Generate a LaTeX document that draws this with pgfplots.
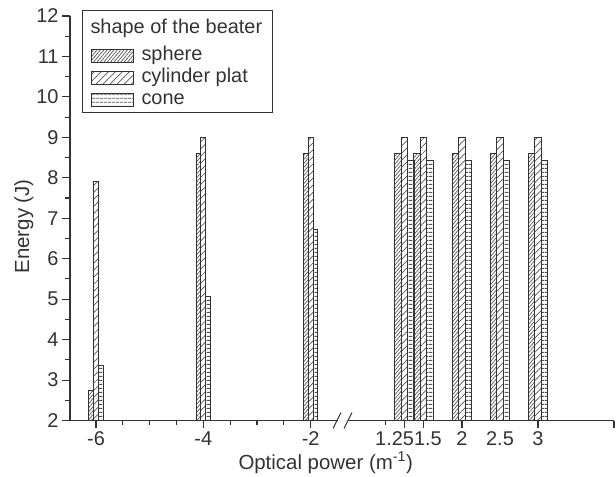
\documentclass[border=0pt]{standalone}
\usepackage{pgfplots}
\pgfplotsset{compat=1.18}
\usepackage{fontspec}
\setmainfont{Liberation Sans}
\usetikzlibrary{patterns.meta}
\definecolor{ax}{HTML}{333333}
\definecolor{hatch}{HTML}{555555}
\definecolor{edge}{HTML}{333333}
\pgfplotsset{
  mybar/.style={ybar, draw=edge, line width=1bp,
    legend image code/.code={\draw[##1] (0bp,-6.5bp) rectangle (42bp,6.5bp);}},
  sphere/.style={pattern={Lines[angle=50,distance=2.6bp,line width=0.7bp]}, pattern color=hatch},
  cyl/.style={pattern={Lines[angle=45,distance=5bp,line width=0.7bp]}, pattern color=hatch},
  cone/.style={pattern={Lines[angle=0,distance=3.6bp,line width=0.9bp]}, pattern color=hatch},
}
\begin{document}
\begin{tikzpicture}
\useasboundingbox (-70bp,-56.5bp) rectangle (546bp,420.5bp);
\begin{axis}[
  scale only axis, width=544bp, height=404.5bp,
  xmin=70, xmax=614, ymin=2, ymax=12,
  axis x line*=bottom, axis y line*=left,
  axis line style={ax, line width=1.3bp},
  tick style={ax, line width=1.1bp},
  tick align=outside,
  major tick length=8bp, minor tick length=4.5bp,
  xtick={96,203.3,310.7,404.5,423.5,462,538,614},
  xticklabels={-6,-4,-2,\hspace*{19bp}\makebox[0pt][r]{1.25},\makebox[0pt][l]{1.5}\hspace*{19bp},2,3,{}},
  minor xtick={122.8,149.7,176.5,230.2,257,283.8,385.5},
  extra x ticks={500}, extra x tick labels={2.5},
  extra x tick style={major tick style={draw=none}},
  ytick={2,3,...,12}, minor y tick num=1,
  /pgf/number format/assume math mode=true,
  tick label style={font=\fontsize{20}{24}\selectfont, text=ax},
  label style={font=\fontsize{20.5}{24}\selectfont, text=ax},
  ylabel={Energy (J)},
  ylabel style={at={(axis description cs:-0.085,0.48)}, anchor=center},
  xlabel={Optical power (m\textsuperscript{-1})},
  xlabel style={at={(axis description cs:0.47,-0.104)}, anchor=center},
  legend cell align=left,
  legend style={at={(axis description cs:0.0221,1.0148)}, anchor=north west,
    draw=ax, line width=1bp, fill=white, inner xsep=8bp, inner ysep=1.5bp,
    font=\fontsize{20}{24}\selectfont, text=ax,
    nodes={text height=14bp, text depth=5bp, inner ysep=1.5bp},
    column sep=6bp, row sep=0bp},
]
\addlegendimage{empty legend}
\addlegendentry[text height=20bp, text depth=10bp]{\hspace*{-51bp}shape of the beater}
% left segment (-6, -4, -2)
\addplot[mybar, sphere, bar width=4.8bp, bar shift=-4.8bp] coordinates {(96,2.75) (203.3,8.6) (310.7,8.6)};
\addlegendentry{sphere}
\addplot[mybar, cyl, bar width=4.8bp, bar shift=0bp] coordinates {(96,7.9) (203.3,9.0) (310.7,9.0)};
\addlegendentry{cylinder plat}
\addplot[mybar, cone, bar width=4.8bp, bar shift=4.8bp] coordinates {(96,3.37) (203.3,5.06) (310.7,6.73)};
\addlegendentry{cone}
% right segment (1.25, 1.5, 2, 2.5, 3)
\addplot[mybar, sphere, bar width=6.5bp, bar shift=-6.5bp, forget plot] coordinates {(404.5,8.6) (423.5,8.6) (462,8.6) (500,8.6) (538,8.6)};
\addplot[mybar, cyl, bar width=6.5bp, bar shift=0bp, forget plot] coordinates {(404.5,9.0) (423.5,9.0) (462,9.0) (500,9.0) (538,9.0)};
\addplot[mybar, cone, bar width=6.5bp, bar shift=6.5bp, forget plot] coordinates {(404.5,8.42) (423.5,8.42) (462,8.42) (500,8.42) (538,8.42)};
\coordinate (brk) at (axis cs:342.5,2);
\end{axis}
\fill[white] ([xshift=-5bp,yshift=-2bp]brk) rectangle ([xshift=5bp,yshift=2bp]brk);
\draw[ax, line width=1.1bp] ([xshift=-9.5bp,yshift=-8bp]brk) -- ([xshift=-1.5bp,yshift=8bp]brk);
\draw[ax, line width=1.1bp] ([xshift=1.5bp,yshift=-8bp]brk) -- ([xshift=9.5bp,yshift=8bp]brk);
\end{tikzpicture}
\end{document}
